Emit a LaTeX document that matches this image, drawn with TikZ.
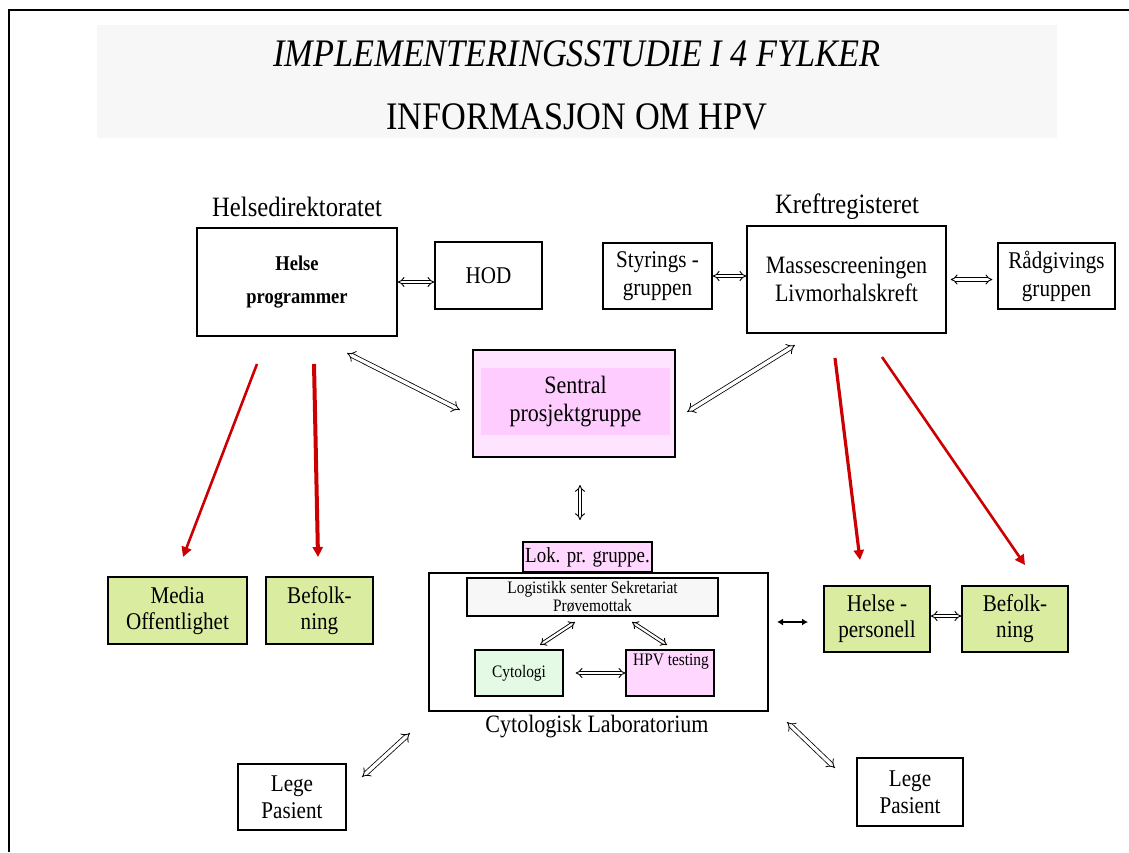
\documentclass[tikz,border=0pt]{standalone}
\usepackage{fontspec}
\setmainfont{Liberation Serif}[FakeStretch=0.88]
\usetikzlibrary{arrows.meta,calc}
\definecolor{redarrow}{RGB}{204,0,0}
\definecolor{greenfill}{RGB}{218,236,160}
\definecolor{pinkin}{RGB}{255,204,255}
\definecolor{pinkout}{RGB}{255,228,255}
\definecolor{pinklight}{RGB}{255,215,255}
\definecolor{mintfill}{RGB}{228,250,228}
\definecolor{bandgray}{RGB}{247,247,247}
\tikzset{
  box/.style={draw=black, line width=1.5pt, inner sep=0pt, align=center},
  greenbox/.style={box, fill=greenfill},
  fs/.style={font=\fontsize{#1}{#1}\selectfont},
  dbl/.style={double, double distance=3.4pt, line width=0.8pt, {Implies}-{Implies}},
  dblshort/.style={double, double distance=2.6pt, line width=0.9pt, {Implies}-{Implies}},
  redarr/.style={draw=redarrow, line width=#1, -{Triangle[length=10pt,width=10pt]}},
  solidarr/.style={line width=2pt, {Latex[length=6pt,width=7pt]}-{Latex[length=6pt,width=7pt]}}
}
\begin{document}
\begin{tikzpicture}[x=1pt,y=-1pt]
\useasboundingbox (0,0) rectangle (1129,852);
% frame
\draw[line width=2pt] (9,852) -- (9,10) -- (1129,10);
% title band
\fill[bandgray] (97,25) rectangle (1057,138);
\node[font=\fontsize{39}{42}\selectfont\itshape] (t1) at (577,54) {IMPLEMENTERINGSSTUDIE I 4 FYLKER};
\node[fs=39] (t2) at (577,117) {INFORMASJON OM HPV};

% top labels
\node[fs=28] (hdir) at (297,207) {Helsedirektoratet};
\node[fs=28] (kreft) at (847,207) {Kreftregisteret};

% top boxes
\node[box, minimum width=200pt, minimum height=108pt, font=\fontsize{21}{33}\selectfont\bfseries] (hp) at (297,282) {Helse\\programmer};
\node[box, fs=24, minimum width=107pt, minimum height=67pt] (hod) at (488.5,275.5) {HOD};
\node[box, minimum width=109pt, minimum height=66pt, font=\fontsize{24}{28}\selectfont] (sty) at (657.5,276) {Styrings -\\gruppen};
\node[box, minimum width=199pt, minimum height=107pt, font=\fontsize{25}{28}\selectfont] (mas) at (846.5,279.5) {Massescreeningen\\Livmorhalskreft};
\node[box, minimum width=117pt, minimum height=66pt, font=\fontsize{24}{28}\selectfont] (rad) at (1056.5,276) {Rådgivings\\gruppen};

% sentral
\node[box, fill=pinkout, minimum width=202pt, minimum height=107pt] (sen) at (574,403.5) {};
\node[fill=pinkin, inner sep=0pt, minimum width=189pt, minimum height=67pt, align=center, font=\fontsize{25}{28}\selectfont] (seninner) at (575.5,401.5) {Sentral\\prosjektgruppe};

% lab
\node[box, fill=pinklight, minimum width=129pt, minimum height=30pt, font=\fontsize{21.5}{24}\selectfont] (lok) at (587.5,557) {Lok. pr. gruppe.};
\node[box, minimum width=339pt, minimum height=138pt] (lab) at (598.5,642) {};
\node[box, fill=bandgray, line width=1.2pt, minimum width=251pt, minimum height=38pt, font=\fontsize{17.5}{18}\selectfont] (log) at (592.5,597) {Logistikk senter Sekretariat\\Prøvemottak};
\node[box, fill=mintfill, line width=1.2pt, minimum width=88pt, minimum height=46pt, font=\fontsize{17.5}{20}\selectfont] (cyt) at (519,673) {Cytologi};
\node[box, fill=pinklight, line width=1.2pt, minimum width=88pt, minimum height=46pt] (hpvt) at (670,673) {};
\node[font=\fontsize{17.5}{20}\selectfont, inner sep=0pt] (hpvtxt) at (671,662) {HPV testing};
\node[fs=25] (labtxt) at (597,727) {Cytologisk Laboratorium};

% green boxes
\node[greenbox, minimum width=139pt, minimum height=67pt, font=\fontsize{24}{26}\selectfont] (media) at (177.5,610.5) {Media\\Offentlighet};
\node[greenbox, minimum width=107pt, minimum height=67pt, font=\fontsize{24}{26}\selectfont] (befL) at (319.5,610.5) {Befolk-\\ning};
\node[greenbox, minimum width=106pt, minimum height=66pt, font=\fontsize{24}{26}\selectfont] (hpers) at (877,619) {Helse -\\personell};
\node[greenbox, minimum width=106pt, minimum height=66pt, font=\fontsize{24}{26}\selectfont] (befR) at (1015,619) {Befolk-\\ning};

% lege pasient
\node[box, minimum width=108pt, minimum height=66pt, font=\fontsize{24}{27}\selectfont] (legeL) at (292,797) {Lege\\Pasient};
\node[box, minimum width=106pt, minimum height=68pt, font=\fontsize{24}{27}\selectfont] (legeR) at (910,792) {Lege\\Pasient};

% connectors top row
\draw[dblshort] (hp.east) -- (hp.east -| hod.west);
\draw[dblshort] (sty.east) -- (sty.east -| mas.west);
\draw[dblshort, shorten <=4pt, shorten >=5pt] (mas.east) -- (mas.east -| rad.west);

% diagonals to sentral
\coordinate (c1) at (347,353);
\coordinate (c2) at (460,410);
\coordinate (c3) at (795,345);
\coordinate (c4) at (687,412);
\draw[dbl] (c1) -- (c2);
\draw[dbl] (c3) -- (c4);

% sentral - lok
\coordinate (c5) at (580,485);
\coordinate (c6) at (580,520);
\draw[dblshort] (c5) -- (c6);

% inside lab
\coordinate (c7) at (540,645);
\coordinate (c8) at (575,622);
\coordinate (c9) at (632,622);
\coordinate (c10) at (667,645);
\draw[dblshort, double distance=2.2pt] (c7) -- (c8);
\draw[dblshort, double distance=2.2pt] (c9) -- (c10);
\draw[dblshort, shorten <=12pt] (cyt.east) -- (cyt.east -| hpvt.west);

% lab - helsepersonell
\coordinate (c11) at (777,622);
\coordinate (c12) at (808,622);
\draw[solidarr] (c11) -- (c12);
\draw[dblshort] ($(hpers.east)+(0,-3)$) -- ($(befR.west)+(0,-3)$);

% red arrows
\coordinate (r1s) at (257,364);
\coordinate (r1e) at (183,557);
\coordinate (r2s) at (314,364);
\coordinate (r2e) at (318,557);
\coordinate (r3s) at (835,358);
\coordinate (r3e) at (860,560);
\coordinate (r4s) at (882,357);
\coordinate (r4e) at (1025,565);
\draw[redarr=2.6pt] (r1s) -- (r1e);
\draw[redarr=4pt] (r2s) -- (r2e);
\draw[redarr=3.2pt] (r3s) -- (r3e);
\draw[redarr=2.6pt] (r4s) -- (r4e);

% lab - lege pasient
\coordinate (c13) at (410,733);
\coordinate (c14) at (362,777);
\coordinate (c15) at (787,722);
\coordinate (c16) at (835,768);
\draw[dbl] (c13) -- (c14);
\draw[dbl] (c15) -- (c16);
\end{tikzpicture}
\end{document}
